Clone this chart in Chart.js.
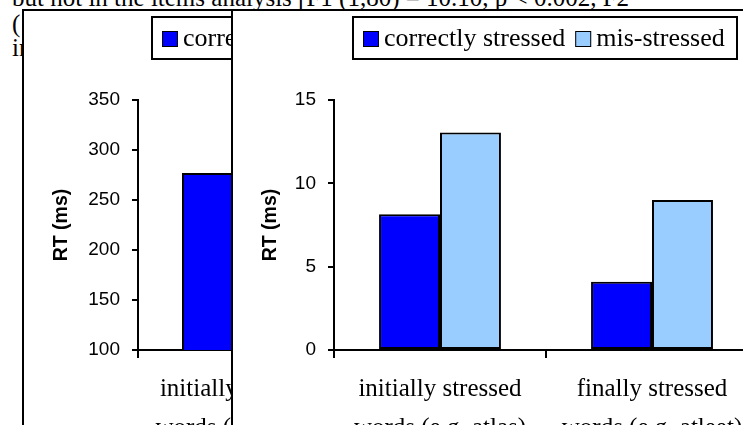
<!DOCTYPE html>
<html lang="en">
<head>
<meta charset="UTF-8">
<title>RT (ms) by stress position</title>
<script src="https://cdn.jsdelivr.net/npm/chart.js"></script>
<style>
  body { margin: 0; background: #fff; overflow: hidden; }
  #page { position: absolute; left: 0; top: 0; width: 743px; height: 425px; overflow: hidden; background: #fff; }
  .line { position: absolute; left: 12px; font: 25px "Liberation Serif", "Times New Roman", serif; line-height: 25px; white-space: pre; color: #000; }
  .frame { position: absolute; top: 9px; width: 560px; height: 440px; border: 2px solid #000; background: #fff; }
  .box { position: absolute; left: 0; top: 0; width: 540px; height: 440px; }
</style>
</head>
<body>
<div id="page">
  <div class="line" style="top:-15px">but not in the items analysis [F1 (1,80) = 10.10, p &lt; 0.002, F2</div>
  <div class="line" style="top:11px">(</div>
  <div class="line" style="top:35px">in</div>

  <div class="frame" style="left:22px"><div class="box"><canvas id="leftChart"></canvas></div></div>
  <div class="frame" style="left:231px"><div class="box"><canvas id="rightChart"></canvas></div></div>
</div>

<script>
  // categories and series
  const categories = [
    ['initially stressed', 'words (e.g. atlas)'],
    ['finally stressed', 'words (e.g. atleet)']
  ];
  const seriesNames = ['correctly stressed', 'mis-stressed'];

  // left chart (mostly covered, only the first bar is visible)
  const leftCorrect = [277, null];
  const leftMis = [null, null];
  const leftTicks = [100, 150, 200, 250, 300, 350];

  // right chart
  const rightCorrect = [8.15, 4.1];
  const rightMis = [13.05, 9.0];
  const rightTicks = [0, 5, 10, 15];

  const colors = ['#0000FF', '#99CCFF'];
  const serif = '"Liberation Serif", "Times New Roman", serif';
  const sans = '"Liberation Sans", Arial, sans-serif';

  // legend drawn inside a framed box, like the spreadsheet legend
  const boxLegend = {
    id: 'boxLegend',
    afterDraw(chart, args, opts) {
      const ctx = chart.ctx;
      ctx.save();
      ctx.fillStyle = '#fff';
      ctx.fillRect(opts.x, opts.y, opts.w, opts.h);
      ctx.lineWidth = 2;
      ctx.strokeStyle = '#000';
      ctx.strokeRect(opts.x, opts.y, opts.w, opts.h);
      ctx.font = '26px ' + serif;
      ctx.textBaseline = 'middle';
      let x = opts.x + 10;
      const cy = opts.y + opts.h / 2 + 1;
      chart.data.datasets.forEach(ds => {
        ctx.fillStyle = ds.backgroundColor;
        ctx.fillRect(x, cy - 8, 16, 16);
        ctx.lineWidth = 1;
        ctx.strokeRect(x + 0.5, cy - 7.5, 15, 15);
        ctx.fillStyle = '#000';
        ctx.fillText(ds.label, x + 21, cy);
        x += 21 + ctx.measureText(ds.label).width + 10;
      });
      ctx.restore();
    }
  };

  function makeChart(id, correct, mis, ticks, yWidth, padRight, legendPos) {
    const step = ticks[1] - ticks[0];
    return new Chart(document.getElementById(id), {
      type: 'bar',
      data: {
        labels: categories,
        datasets: [
          { label: seriesNames[0], data: correct, backgroundColor: colors[0], borderColor: '#000', borderWidth: 2, borderSkipped: false },
          { label: seriesNames[1], data: mis, backgroundColor: colors[1], borderColor: '#000', borderWidth: 2, borderSkipped: false }
        ]
      },
      options: {
        responsive: true,
        maintainAspectRatio: false,
        animation: false,
        layout: { padding: { top: 89, left: 0, right: padRight, bottom: 0 } },
        datasets: { bar: { categoryPercentage: 0.575, barPercentage: 1 } },
        plugins: {
          legend: { display: false },
          tooltip: { enabled: false },
          boxLegend: legendPos
        },
        scales: {
          x: {
            offset: true,
            grid: { offset: true, drawOnChartArea: false, tickLength: 8, color: '#000', lineWidth: 2 },
            border: { color: '#000', width: 2 },
            ticks: { color: '#000', font: { family: serif, size: 25, lineHeight: 1.56 }, padding: 12, maxRotation: 0, autoSkip: false },
            afterFit: s => { s.height = 101; }
          },
          y: {
            min: ticks[0],
            max: ticks[ticks.length - 1],
            ticks: { stepSize: step, color: '#000', font: { family: sans, size: 19 }, padding: 12 },
            grid: { drawOnChartArea: false, tickLength: 6, color: '#000', lineWidth: 2 },
            border: { color: '#000', width: 2 },
            title: { display: true, text: 'RT (ms)', color: '#000', font: { family: sans, size: 19.5, weight: 'bold' }, padding: { top: 26, bottom: 0 } },
            afterFit: s => { s.width = yWidth; }
          }
        }
      },
      plugins: [boxLegend]
    });
  }

  makeChart('leftChart', leftCorrect, leftMis, leftTicks, 114, 12, { x: 128, y: 6, w: 384, h: 42 });
  makeChart('rightChart', rightCorrect, rightMis, rightTicks, 101, 15, { x: 120, y: 6, w: 384, h: 42 });
</script>
</body>
</html>
